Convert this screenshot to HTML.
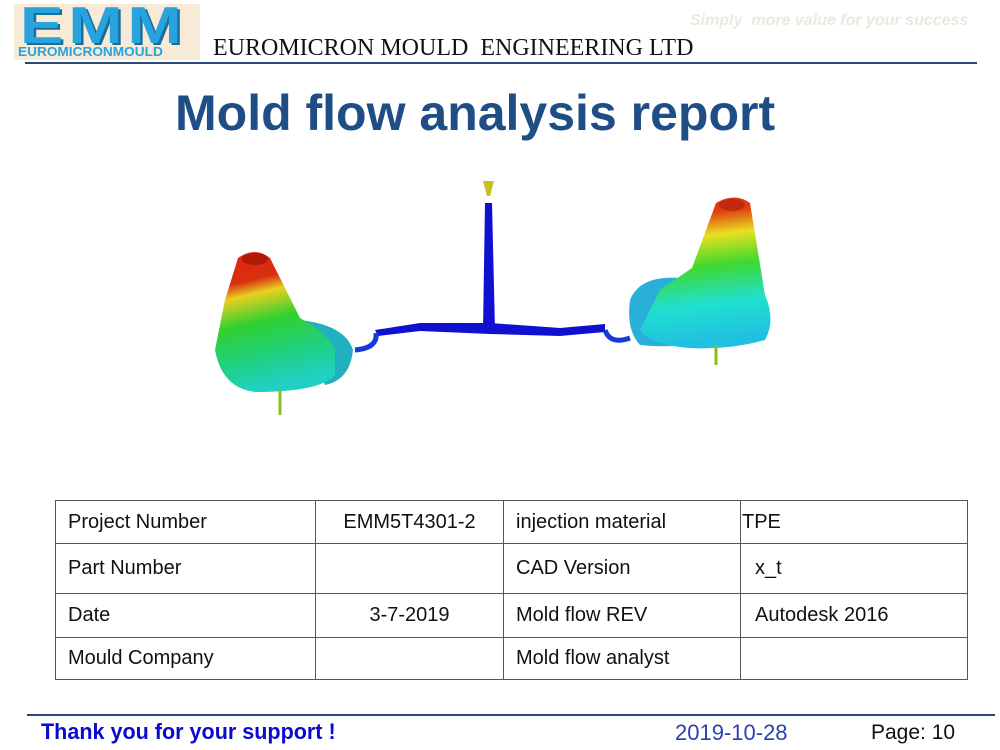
<!DOCTYPE html>
<html><head><meta charset="utf-8"><style>
body{margin:0;width:1000px;height:750px;background:#fff;position:relative;overflow:hidden;font-family:"Liberation Sans",sans-serif}
.a{position:absolute;white-space:nowrap}
table{position:absolute;left:55px;top:500px;border-collapse:collapse;table-layout:fixed;width:912px;font-size:20px;color:#111}
td{border:1px solid #555;padding:0 0 0 12px;height:42px;box-sizing:border-box}
</style></head><body>
<div class="a" style="left:14px;top:4px;width:186px;height:56px;background:#f7ead7"></div>
<div class="a" style="left:20px;top:-4px;font:bold 52px 'Liberation Sans',sans-serif;color:#29a3de;letter-spacing:4px;transform:scaleX(1.25);transform-origin:left;text-shadow:2px 2px 0 #1a6f9a">EMM</div>
<div class="a" style="left:18px;top:44px;font:bold 13px 'Liberation Sans',sans-serif;color:#29a3de;transform:scaleX(1.05);transform-origin:left">EUROMICRONMOULD</div>
<div class="a" style="left:213px;top:35px;font:24px 'Liberation Serif',serif;color:#111">EUROMICRON MOULD&nbsp; ENGINEERING LTD</div>
<div class="a" style="left:690px;top:12px;font:italic bold 16px 'Liberation Sans',sans-serif;color:#ece8de">Simply&nbsp; more value for your success</div>
<div class="a" style="left:25px;top:62px;width:952px;height:1.5px;background:#2a4a7c"></div>
<div class="a" style="left:175px;top:84px;font:bold 50px 'Liberation Sans',sans-serif;color:#1f4e86">Mold flow analysis report</div>
<svg class="a" style="left:0;top:0" width="1000" height="500">
<defs>
<linearGradient id="g1" x1="0" y1="0" x2="0.2" y2="1"><stop offset="0" stop-color="#e52010"/><stop offset="0.25" stop-color="#d83010"/><stop offset="0.35" stop-color="#e8d020"/><stop offset="0.55" stop-color="#30d030"/><stop offset="0.8" stop-color="#20d080"/><stop offset="1" stop-color="#20d0c0"/></linearGradient>
<linearGradient id="g2" x1="0" y1="0" x2="0.1" y2="1"><stop offset="0" stop-color="#e52010"/><stop offset="0.15" stop-color="#e04010"/><stop offset="0.3" stop-color="#e8e020"/><stop offset="0.5" stop-color="#40d830"/><stop offset="0.75" stop-color="#20e0d0"/><stop offset="1" stop-color="#20c0e0"/></linearGradient>
</defs>
<path d="M300 320 Q345 325 353 350 Q350 380 325 385 L300 330Z" fill="#20b0c0"/>
<path d="M238 258 Q255 246 270 258 L300 318 Q330 335 335 350 L335 375 Q320 392 255 392 Q222 388 215 350 L225 300Z" fill="url(#g1)"/>
<ellipse cx="255" cy="259" rx="13" ry="6" fill="#b01a08"/>
<line x1="280" y1="390" x2="280" y2="415" stroke="#80c020" stroke-width="3"/>
<path d="M630 300 Q640 275 680 278 L705 335 Q690 350 640 345 Q626 330 630 300Z" fill="#2ab0d8"/>
<path d="M716 203 Q735 192 750 203 L765 295 Q776 320 765 340 Q730 350 690 348 Q650 345 640 330 L660 290 L692 268Z" fill="url(#g2)"/>
<ellipse cx="732" cy="205" rx="13" ry="6" fill="#c02a10"/>
<line x1="716" y1="345" x2="716" y2="365" stroke="#80c020" stroke-width="3"/>
<path d="M483 181 L494 181 L490 196 L487 196Z" fill="#c8c020"/>
<path d="M485 203 L492 203 L495 330 L483 330Z" fill="#1010d0"/>
<path d="M375 330 L420 323 L490 323 L560 328 L605 324 L605 332 L560 336 L490 334 L420 331 L378 336Z" fill="#1010d0"/>
<path d="M376 333 Q378 348 355 350" fill="none" stroke="#1838d8" stroke-width="5"/>
<path d="M605 330 Q610 345 630 338" fill="none" stroke="#1838d8" stroke-width="5"/>
</svg>
<table>
<colgroup><col style="width:260px"><col style="width:188px"><col style="width:237px"><col style="width:227px"></colgroup>
<tr style="height:43px"><td>Project Number</td><td style="text-align:center;padding:0">EMM5T4301-2</td><td>injection material</td><td style="padding-left:1px">TPE</td></tr>
<tr style="height:50px"><td>Part Number</td><td style="padding:0"></td><td>CAD Version</td><td style="padding-left:14px">x_t</td></tr>
<tr style="height:44px"><td>Date</td><td style="text-align:center;padding:0">3-7-2019</td><td>Mold flow REV</td><td style="padding-left:14px">Autodesk 2016</td></tr>
<tr style="height:40px"><td>Mould Company</td><td style="padding:0"></td><td>Mold flow analyst</td><td></td></tr>
</table>
<div class="a" style="left:27px;top:714px;width:968px;height:1.5px;background:#2a4a7c"></div>
<div class="a" style="left:41px;top:719px;font:bold 22px 'Liberation Sans',sans-serif;color:#0a0ad0;transform:scaleX(0.98);transform-origin:left">Thank you for your support !</div>
<div class="a" style="left:675px;top:720px;font:22px 'Liberation Sans',sans-serif;color:#2a3fb0">2019-10-28</div>
<div class="a" style="left:871px;top:721px;font:21px 'Liberation Sans',sans-serif;color:#111">Page: 10</div>
</body></html>
